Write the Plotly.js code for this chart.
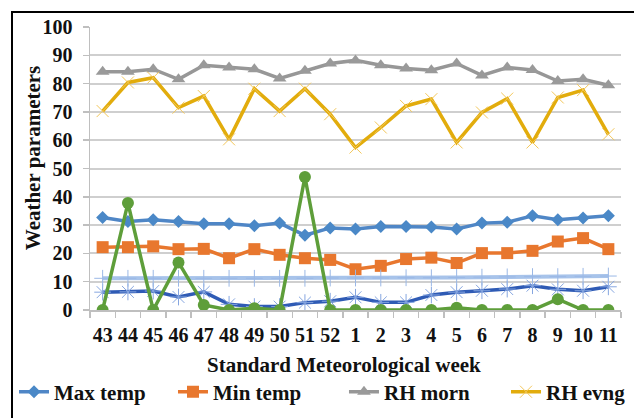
<!DOCTYPE html>
<html>
<head>
<meta charset="utf-8">
<script src="https://cdn.plot.ly/plotly-3.0.1.min.js"></script>
<style>
html,body{margin:0;padding:0;background:#fff;overflow:hidden;}
#chart{width:634px;height:418px;position:relative;}
#frame{position:absolute;left:11px;top:11px;width:700px;height:500px;border-left:2px solid #000;border-top:2px solid #000;pointer-events:none;}
</style>
</head>
<body>
<div id="chart"></div>
<div id="frame"></div>
<script>
const weeks = ['43','44','45','46','47','48','49','50','51','52','1','2','3','4','5','6','7','8','9','10','11'];
const maxTemp = [32.7,31.3,31.9,31.3,30.5,30.5,29.8,30.7,26.4,29.0,28.6,29.5,29.5,29.3,28.6,30.7,31.0,33.3,31.9,32.5,33.3];
const minTemp = [22.2,22.2,22.5,21.5,21.6,18.3,21.5,19.5,18.3,17.7,14.4,15.6,18.0,18.5,16.6,20.1,20.1,20.9,24.2,25.4,21.5];
const rhMorn  = [84.2,84.2,85.1,81.5,86.5,85.7,85.1,81.8,84.5,87.1,88.2,86.5,85.3,84.7,87.1,82.9,85.7,84.8,80.9,81.5,79.4];
const rhEvng  = [70.3,80.4,82.1,71.5,75.6,60.3,78.2,70.3,78.2,69.2,57.4,64.5,72.1,74.5,59.2,69.8,74.7,59.2,75.1,77.7,62.1];
const sunshine = [6.3,6.4,6.7,4.6,6.4,2.0,1.2,1.2,2.6,3.1,4.5,2.7,2.7,5.3,6.3,6.8,7.4,8.6,7.3,6.8,8.2];
const windSpeed = [11.2,11.2,11.2,11.2,11.2,11.2,11.2,11.2,11.2,11.3,11.3,11.3,11.4,11.4,11.5,11.6,11.7,11.8,11.8,11.9,12.0];
const rainfall = [0,37.8,0,16.8,1.8,0,0.6,0,47,0,0,0,0,0,0.8,0,0,0,3.8,0,0];
const yTicks = [0,10,20,30,40,50,60,70,80,90,100];

const F = 'Liberation Serif';
function tr(name, y, lineColor, lw, sym, size, mColor, mLineW, show, leg) {
  return {
    type: 'scatter', mode: 'lines+markers', name: name, x: weeks, y: y,
    showlegend: show, legend: leg || 'legend',
    line: {color: lineColor, width: lw},
    marker: {symbol: sym, size: size, color: mColor, line: {color: mColor, width: mLineW}}
  };
}
const data = [
  tr('Max temp', maxTemp, '#4f86c6', 3.5, 'diamond', 10, '#4a88c7', 0, true, 'legend'),
  tr('Min temp', minTemp, '#e8772e', 3.5, 'square', 12, '#e8772e', 0, true, 'legend2'),
  tr('RH morn', rhMorn, '#979797', 3.5, 'triangle-up', 12, '#9a9a9a', 0, true, 'legend3'),
  tr('RH evng', rhEvng, '#e2ac0c', 3.5, 'x-thin-open', 12, '#f3c75a', 1, true, 'legend4'),
  tr('Sunshine', sunshine, '#2f5bb5', 3.5, 'asterisk-open', 14, '#86a6e0', 1, false),
  tr('Wind speed', windSpeed, '#a7c3ea', 4, 'cross-thin-open', 12, '#9bb8e6', 1, false),
  tr('Rainfall', rainfall, '#5e9e3a', 3.5, 'circle', 12, '#5e9e3a', 0, false)
];

function leg(x) {
  return {orientation: 'h', x: x, xanchor: 'left', y: -0.29, yanchor: 'middle',
    font: {family: F, size: 21, color: '#111', weight: 'bold'}, bgcolor: 'rgba(0,0,0,0)'};
}

const layout = {
  width: 634, height: 418,
  margin: {l: 90, r: 13, t: 27, b: 108, autoexpand: false},
  paper_bgcolor: '#fff', plot_bgcolor: '#fff',
  font: {family: F, color: '#111'},
  xaxis: {
    type: 'category', range: [-0.5, 20.5], tickangle: 0, automargin: false,
    showgrid: false, showline: true, linecolor: '#bfbfbf', linewidth: 2,
    ticks: 'outside', tickson: 'boundaries', ticklen: 6, tickcolor: '#bfbfbf', tickwidth: 1.5,
    tickfont: {family: F, size: 20, color: '#111', weight: 'bold'},
    ticklabelstandoff: 6, zeroline: false
  },
  yaxis: {
    range: [0, 100], tickvals: yTicks, ticktext: yTicks.map(String), automargin: false,
    showgrid: true, gridcolor: '#cfcfcf', gridwidth: 2,
    showline: true, linecolor: '#bfbfbf', linewidth: 1.5,
    ticks: 'outside', ticklen: 6, tickcolor: '#bfbfbf', tickwidth: 1.5,
    tickfont: {family: F, size: 20, color: '#111', weight: 'bold'},
    ticklabelstandoff: 6, zeroline: false
  },
  legend: leg(-0.1431),
  legend2: leg(0.1563),
  legend3: leg(0.4783),
  legend4: leg(0.7834),
  annotations: [
    {text: 'Weather parameters', xref: 'paper', yref: 'paper', x: -0.107, y: 0.537,
     xanchor: 'center', yanchor: 'middle', textangle: -90, showarrow: false,
     font: {family: F, size: 21, color: '#111', weight: 'bold'}},
    {text: 'Standard Meteorological week', xref: 'paper', yref: 'paper', x: 0.478, y: -0.195,
     xanchor: 'center', yanchor: 'middle', showarrow: false,
     font: {family: F, size: 21, color: '#111', weight: 'bold'}}
  ]
};
Plotly.newPlot('chart', data, layout, {displayModeBar: false, staticPlot: true});
</script>
</body>
</html>
